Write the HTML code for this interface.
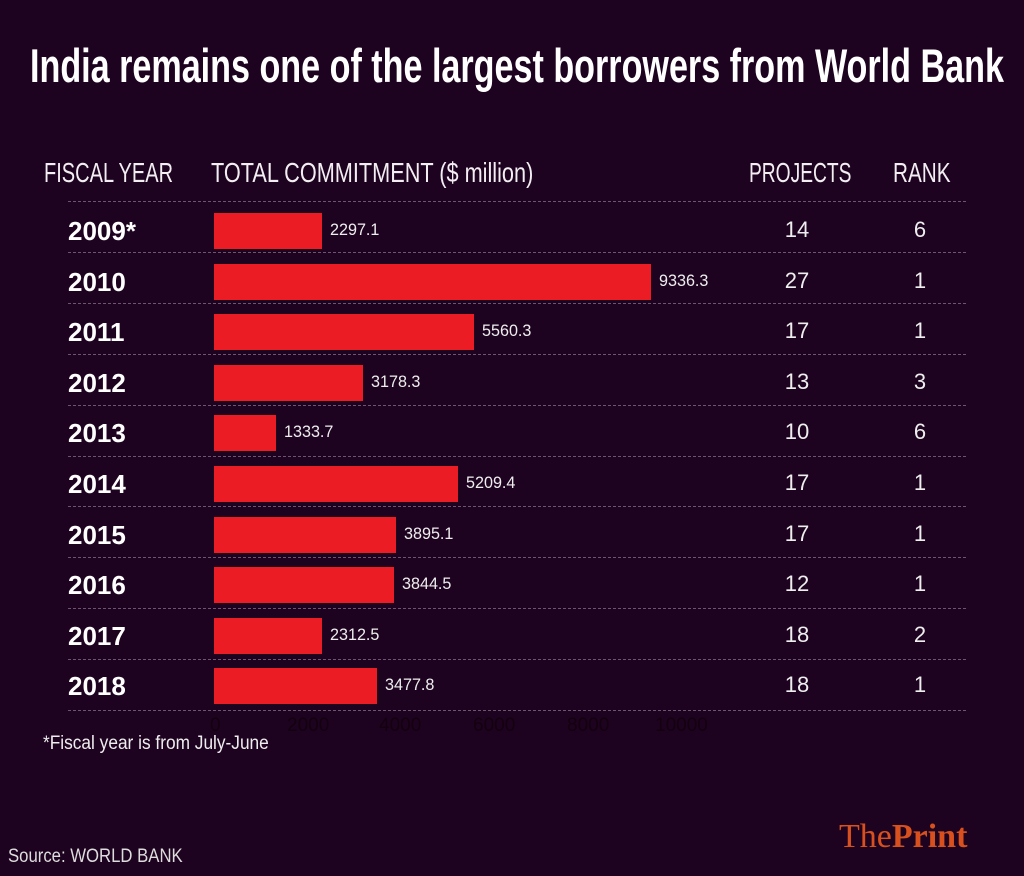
<!DOCTYPE html>
<html><head><meta charset="utf-8"><style>
body{margin:0;width:1024px;height:876px;background:#1e0320;position:relative;overflow:hidden;font-family:"Liberation Sans",sans-serif;color:#fff}
.a{position:absolute;white-space:nowrap}
.t{left:30px;top:38px;font-size:47px;font-weight:bold;transform-origin:left top;transform:scaleX(0.726)}
.h{font-size:28px;top:157px;color:#f2eef2;transform-origin:left top;transform:scaleX(0.76)}
.line{position:absolute;left:68px;width:898px;border-top:1.5px dashed #6d5570}
.yr{left:68px;font-size:26px;font-weight:bold}
.bar{position:absolute;left:214px;height:36px;background:#ec1c24}
.v{font-size:17px;color:#eee;transform-origin:left top;transform:scaleX(0.95)}
.n{font-size:22px;color:#eee;width:60px;text-align:center}
.tk{font-size:19px;color:#14010f;top:715px}
</style></head><body>
<div class="a t">India remains one of the largest borrowers from World Bank</div>
<div class="a h" style="left:44px;transform:scaleX(0.715)">FISCAL YEAR</div>
<div class="a h" style="left:211px;transform:scaleX(0.775)">TOTAL COMMITMENT ($ million)</div>
<div class="a h" style="left:749px;transform:scaleX(0.686)">PROJECTS</div>
<div class="a h" style="left:893px;transform:scaleX(0.74)">RANK</div>
<div id="rows"></div>
<div class="a tk" style="left:210px">0</div>
<div class="a tk" style="left:287px">2000</div>
<div class="a tk" style="left:379px">4000</div>
<div class="a tk" style="left:473px">6000</div>
<div class="a tk" style="left:567px">8000</div>
<div class="a tk" style="left:655px">10000</div>
<div class="a" style="left:43px;top:733px;font-size:19px;color:#eee;transform-origin:left top;transform:scaleX(0.91)">*Fiscal year is from July-June</div>
<div class="a" style="left:8px;top:846px;font-size:19px;color:#ddd;transform-origin:left top;transform:scaleX(0.88)">Source: WORLD BANK</div>
<div class="a" style="left:839px;top:818px;font-size:34px;color:#d8501e;font-family:'Liberation Serif',serif">The<b>Print</b></div>
<script>
var d=[["2009*",2297.1,14,6],["2010",9336.3,27,1],["2011",5560.3,17,1],["2012",3178.3,13,3],["2013",1333.7,10,6],["2014",5209.4,17,1],["2015",3895.1,17,1],["2016",3844.5,12,1],["2017",2312.5,18,2],["2018",3477.8,18,1]];
var h="";
for(var i=0;i<=10;i++)h+='<div class="line" style="top:'+(201+50.9*i)+'px"></div>';
d.forEach(function(r,i){var top=213+50.6*i,w=r[1]*0.0468;var c=top+18;
h+='<div class="bar" style="top:'+top+'px;width:'+w+'px"></div>';
h+='<div class="a v" style="left:'+(214+w+8)+'px;top:'+(c-11)+'px">'+r[1].toFixed(1)+'</div>';
h+='<div class="a yr" style="top:'+(c-15)+'px">'+r[0]+'</div>';
h+='<div class="a n" style="left:767px;top:'+(c-14)+'px">'+r[2]+'</div>';
h+='<div class="a n" style="left:890px;top:'+(c-14)+'px">'+r[3]+'</div>';});
document.getElementById("rows").innerHTML=h;
</script>
</body></html>
